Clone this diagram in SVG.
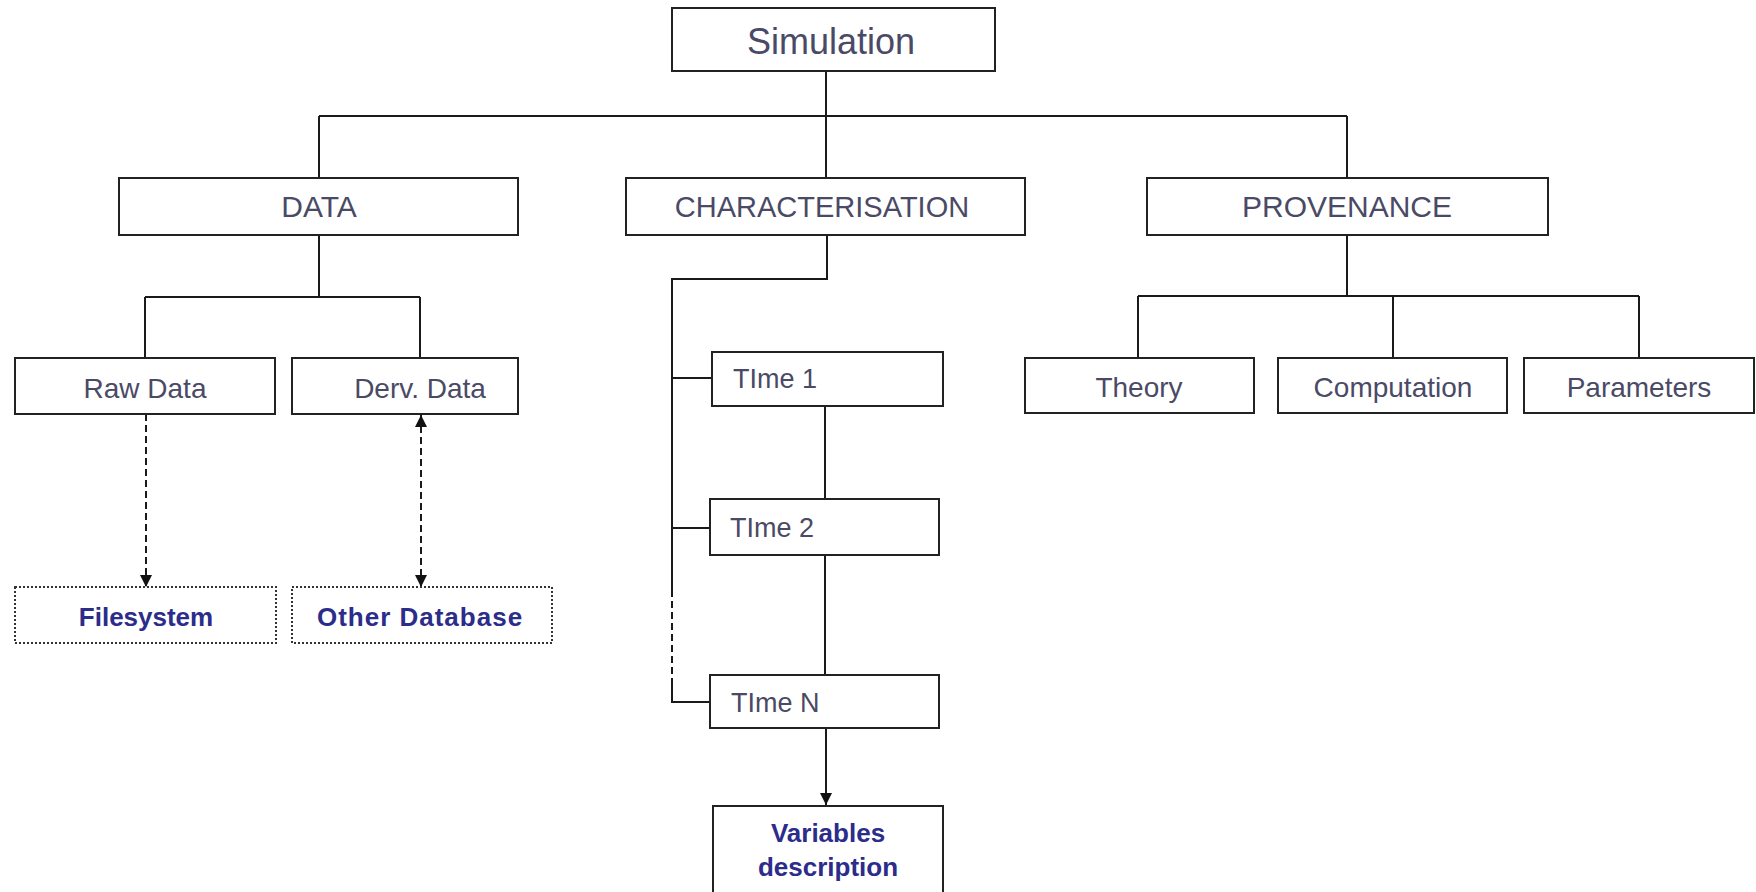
<svg xmlns="http://www.w3.org/2000/svg" width="1756" height="892" viewBox="0 0 1756 892">
  <defs>
    <marker id="arrow" viewBox="0 0 10 10" refX="10" refY="5" markerWidth="12" markerHeight="12" markerUnits="userSpaceOnUse" orient="auto-start-reverse">
      <path d="M0,0 L10,5 L0,10 z" fill="#111"/>
    </marker>
    <style>
      .box { fill: #ffffff; stroke: #222222; stroke-width: 2; }
      .dbox { fill: #ffffff; stroke: #333333; stroke-width: 2; stroke-dasharray: 2 2; }
      .lbl { font-family: "Liberation Sans", Arial, sans-serif; fill: #4a4a66; text-anchor: middle; }
      .tl { font-family: "Liberation Sans", Arial, sans-serif; fill: #4a4a66; font-size: 27px; }
      .bold { font-family: "Liberation Sans", Arial, sans-serif; fill: #2c2c8a; font-weight: bold; text-anchor: middle; }
      .ln { fill: none; stroke: #1a1a1a; stroke-width: 2; }
      .dash { fill: none; stroke: #1a1a1a; stroke-width: 2; stroke-dasharray: 7 4; }
    </style>
  </defs>
  <rect width="1756" height="892" fill="#ffffff"/>

  <g id="connectors">
    <path class="ln" d="M826,72 V178"/>
    <path class="ln" d="M319,116 H1347"/>
    <path class="ln" d="M319,116 V178"/>
    <path class="ln" d="M1347,116 V178"/>
    <path class="ln" d="M319,235 V297"/>
    <path class="ln" d="M145,297 H420"/>
    <path class="ln" d="M145,297 V358"/>
    <path class="ln" d="M420,297 V358"/>
    <path class="ln" d="M1347,235 V296"/>
    <path class="ln" d="M1138,296 H1639"/>
    <path class="ln" d="M1138,296 V358"/>
    <path class="ln" d="M1393,296 V358"/>
    <path class="ln" d="M1639,296 V358"/>
    <path class="dash" d="M146,414 V587" marker-end="url(#arrow)"/>
    <path class="dash" d="M421,415 V587" marker-start="url(#arrow)" marker-end="url(#arrow)"/>
    <path class="ln" d="M827,235 V279 H672 V590"/>
    <path class="dash" d="M672,590 V680"/>
    <path class="ln" d="M672,680 V702 H710"/>
    <path class="ln" d="M672,378 H712"/>
    <path class="ln" d="M672,528 H710"/>
    <path class="ln" d="M825,406 V499"/>
    <path class="ln" d="M825,555 V675"/>
    <path class="ln" d="M826,728 V805" marker-end="url(#arrow)"/>
  </g>

  <g id="simulation">
    <rect class="box" x="672" y="8" width="323" height="63"/>
    <text class="lbl" x="831" y="54" font-size="36">Simulation</text>
  </g>
  <g id="data">
    <rect class="box" x="119" y="178" width="399" height="57"/>
    <text class="lbl" x="319" y="217" font-size="30">DATA</text>
  </g>
  <g id="characterisation">
    <rect class="box" x="626" y="178" width="399" height="57"/>
    <text class="lbl" x="822" y="217" font-size="29">CHARACTERISATION</text>
  </g>
  <g id="provenance">
    <rect class="box" x="1147" y="178" width="401" height="57"/>
    <text class="lbl" x="1347" y="217" font-size="30">PROVENANCE</text>
  </g>
  <g id="raw-data">
    <rect class="box" x="15" y="358" width="260" height="56"/>
    <text class="lbl" x="145" y="398" font-size="28">Raw Data</text>
  </g>
  <g id="derv-data">
    <rect class="box" x="292" y="358" width="226" height="56"/>
    <text class="lbl" x="420" y="398" font-size="28">Derv. Data</text>
  </g>
  <g id="filesystem">
    <rect class="dbox" x="15" y="587" width="261" height="56"/>
    <text class="bold" x="146" y="626" font-size="26">Filesystem</text>
  </g>
  <g id="other-database">
    <rect class="dbox" x="292" y="587" width="260" height="56"/>
    <text class="bold" x="420" y="626" font-size="26" letter-spacing="1">Other Database</text>
  </g>
  <g id="time-1">
    <rect class="box" x="712" y="352" width="231" height="54"/>
    <text class="tl" x="733" y="388">TIme 1</text>
  </g>
  <g id="time-2">
    <rect class="box" x="710" y="499" width="229" height="56"/>
    <text class="tl" x="730" y="537">TIme 2</text>
  </g>
  <g id="time-n">
    <rect class="box" x="710" y="675" width="229" height="53"/>
    <text class="tl" x="731" y="712">TIme N</text>
  </g>
  <g id="variables-description">
    <rect class="box" x="713" y="806" width="230" height="100"/>
    <text class="bold" x="828" y="842" font-size="26">Variables</text>
    <text class="bold" x="828" y="876" font-size="26">description</text>
  </g>
  <g id="theory">
    <rect class="box" x="1025" y="358" width="229" height="55"/>
    <text class="lbl" x="1139" y="397" font-size="28">Theory</text>
  </g>
  <g id="computation">
    <rect class="box" x="1278" y="358" width="229" height="55"/>
    <text class="lbl" x="1393" y="397" font-size="28">Computation</text>
  </g>
  <g id="parameters">
    <rect class="box" x="1524" y="358" width="230" height="55"/>
    <text class="lbl" x="1639" y="397" font-size="28">Parameters</text>
  </g>
</svg>
